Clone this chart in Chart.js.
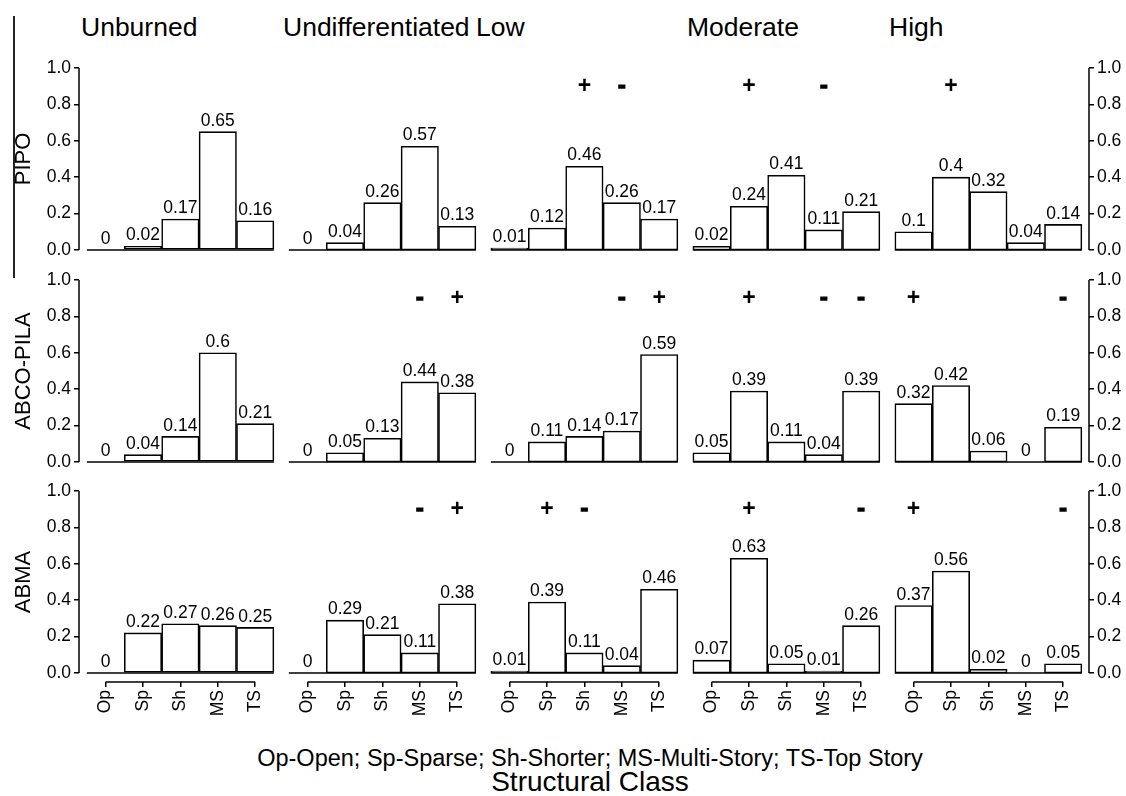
<!DOCTYPE html>
<html>
<head>
<meta charset="utf-8">
<script src="https://cdn.jsdelivr.net/npm/chart.js@4.4.1/dist/chart.umd.min.js"></script>
<style>
  html, body { margin: 0; padding: 0; background: #fff; }
  body { width: 1126px; height: 796px; position: relative; overflow: hidden;
         font-family: "Liberation Sans", Arial, sans-serif; color: #000; }
  canvas { position: absolute; }
  .title { position: absolute; font-size: 26.5px; line-height: 27px; white-space: nowrap; }
  .rowlabel { position: absolute; font-size: 22px; line-height: 22px; white-space: nowrap;
              transform: translate(-50%, -50%) rotate(-90deg); }
  .note { position: absolute; left: 0; width: 1180px; text-align: center; white-space: nowrap; }
  .edge { position: absolute; left: 13px; top: 16px; width: 2px; height: 262px; background: #222; }
</style>
</head>
<body>
<div class="edge"></div>
<div class="note" style="top:745px;font-size:23.5px;line-height:26px;">Op-Open; Sp-Sparse; Sh-Shorter; MS-Multi-Story; TS-Top Story</div>
<div class="note" style="top:767px;font-size:28px;line-height:30px;">Structural Class</div>
<script>
// categories and panels
const categories = ['Op', 'Sp', 'Sh', 'MS', 'TS'];
const severities = ['Unburned', 'Undifferentiated', 'Low', 'Moderate', 'High'];
const species = ['PIPO', 'ABCO-PILA', 'ABMA'];
const yTicks = [0, 0.2, 0.4, 0.6, 0.8, 1.0];

// proportion of plots per structural class, one row per severity
const pipoValues = [
    [0, 0.02, 0.17, 0.65, 0.16],
    [0, 0.04, 0.26, 0.57, 0.13],
    [0.01, 0.12, 0.46, 0.26, 0.17],
    [0.02, 0.24, 0.41, 0.11, 0.21],
    [0.1, 0.4, 0.32, 0.04, 0.14]
];
const abcoPilaValues = [
    [0, 0.04, 0.14, 0.6, 0.21],
    [0, 0.05, 0.13, 0.44, 0.38],
    [0, 0.11, 0.14, 0.17, 0.59],
    [0.05, 0.39, 0.11, 0.04, 0.39],
    [0.32, 0.42, 0.06, 0, 0.19]
];
const abmaValues = [
    [0, 0.22, 0.27, 0.26, 0.25],
    [0, 0.29, 0.21, 0.11, 0.38],
    [0.01, 0.39, 0.11, 0.04, 0.46],
    [0.07, 0.63, 0.05, 0.01, 0.26],
    [0.37, 0.56, 0.02, 0, 0.05]
];

// significant differences from unburned (+ more, - fewer)
const pipoSigns = [
    ['', '', '', '', ''],
    ['', '', '', '', ''],
    ['', '', '+', '-', ''],
    ['', '+', '', '-', ''],
    ['', '+', '', '', '']
];
const abcoPilaSigns = [
    ['', '', '', '', ''],
    ['', '', '', '-', '+'],
    ['', '', '', '-', '+'],
    ['', '+', '', '-', '-'],
    ['+', '', '', '', '-']
];
const abmaSigns = [
    ['', '', '', '', ''],
    ['', '', '', '-', '+'],
    ['', '+', '-', '', ''],
    ['', '+', '', '', '-'],
    ['+', '', '', '', '-']
];
const signLevel = 0.9;

const valuesBySpecies = [pipoValues, abcoPilaValues, abmaValues];
const signsBySpecies = [pipoSigns, abcoPilaSigns, abmaSigns];

// layout (px)
const plotLeft = 79, colStep = 202, plotWidth = 202;
const rowTops = [68, 280, 491];
const titleLefts = [81, 283, 476, 687, 889];
const plotHeight = 191;
const padTop = 14, padBottom = 16, leftAxisW = 50, rightAxisW = 37, xAxisH = 50;
const fontFamily = '"Liberation Sans", Arial, sans-serif';

Chart.defaults.font.family = fontFamily;
Chart.defaults.color = '#000';

// bar labels, signs, baseline and R style axis lines
const panelDecor = {
    id: 'panelDecor',
    afterDatasetsDraw(chart, args, opts) {
        const ctx = chart.ctx;
        const xs = chart.scales.x, ys = chart.scales.y;
        const area = chart.chartArea;
        const bars = chart.getDatasetMeta(0).data;
        const points = chart.data.datasets[0].data;
        const last = categories.length - 1;
        ctx.save();
        ctx.strokeStyle = '#000';
        ctx.lineWidth = 1.5;
        ctx.beginPath();
        let y0 = ys.getPixelForValue(0);
        ctx.moveTo(xs.getPixelForValue(-0.5), y0);
        ctx.lineTo(xs.getPixelForValue(last + 0.5), y0);
        if (opts.xAxis) {
            ctx.moveTo(xs.getPixelForValue(0), area.bottom);
            ctx.lineTo(xs.getPixelForValue(last), area.bottom);
        }
        if (opts.leftAxis) {
            ctx.moveTo(area.left, ys.getPixelForValue(0));
            ctx.lineTo(area.left, ys.getPixelForValue(1));
        }
        if (opts.rightAxis) {
            ctx.moveTo(area.right, ys.getPixelForValue(0));
            ctx.lineTo(area.right, ys.getPixelForValue(1));
        }
        ctx.stroke();

        ctx.fillStyle = '#000';
        ctx.textAlign = 'center';
        ctx.textBaseline = 'bottom';
        ctx.font = '17.5px ' + fontFamily;
        bars.forEach((bar, i) => ctx.fillText(String(points[i].y), bar.x, bar.y - 2));

        // + / - marks, the minus drawn heavier like the original
        ctx.font = 'bold 23px ' + fontFamily;
        ctx.textBaseline = 'middle';
        ctx.lineWidth = 1.4;
        opts.signs.forEach((s, i) => {
            if (!s) return;
            let sy = ys.getPixelForValue(signLevel);
            ctx.fillText(s, bars[i].x, sy);
            if (s === '-') ctx.strokeText(s, bars[i].x, sy);
        });
        ctx.restore();
    }
};

const onlyTicks = (list) => (scale) => { scale.ticks = list.map(v => ({value: v})); };
// fixed axis sizes, only for the axes that are drawn
const fixWidth = (px) => (scale) => { if (scale.options.display) scale.width = px; };
const fixHeight = (px) => (scale) => { if (scale.options.display) scale.height = px; };

for (let r = 0; r < species.length; r++) {
    for (let c = 0; c < severities.length; c++) {
        let leftW = c === 0 ? leftAxisW : 0;
        let rightW = c === severities.length - 1 ? rightAxisW : 0;
        let bottomRow = r === species.length - 1;
        let w = leftW + plotWidth + rightW;
        let h = padTop + plotHeight + (bottomRow ? xAxisH : padBottom);

        let canvas = document.createElement('canvas');
        canvas.width = w;
        canvas.height = h;
        canvas.style.width = w + 'px';
        canvas.style.height = h + 'px';
        canvas.style.left = (plotLeft + colStep * c - leftW) + 'px';
        canvas.style.top = (rowTops[r] - padTop) + 'px';
        document.body.appendChild(canvas);

        let values = valuesBySpecies[r][c];
        let axisTicks = {
            font: {size: 17.5},
            padding: 3,
            callback: (v) => v.toFixed(1)
        };
        let axisGrid = {drawOnChartArea: false, offset: false, tickLength: 5, color: '#000', lineWidth: 1.5};

        new Chart(canvas, {
            type: 'bar',
            data: {
                datasets: [{
                    data: values.map((v, i) => ({x: i, y: v})),
                    backgroundColor: '#fff',
                    borderColor: '#000',
                    borderWidth: 1.6,
                    borderSkipped: false,
                    barPercentage: 1,
                    categoryPercentage: 1
                }]
            },
            options: {
                responsive: false,
                animation: false,
                layout: {padding: {top: padTop, bottom: bottomRow ? 0 : padBottom, left: 0, right: 0}},
                plugins: {
                    legend: {display: false},
                    tooltip: {enabled: false},
                    panelDecor: {
                        signs: signsBySpecies[r][c],
                        xAxis: bottomRow,
                        leftAxis: c === 0,
                        rightAxis: c === severities.length - 1
                    }
                },
                scales: {
                    x: {
                        type: 'linear',
                        offset: false,
                        min: -0.71,
                        max: categories.length - 0.5 + 0.19,
                        display: bottomRow,
                        afterBuildTicks: onlyTicks(categories.map((k, i) => i)),
                        afterFit: fixHeight(xAxisH),
                        ticks: {
                            font: {size: 17.5},
                            padding: 3,
                            minRotation: 90,
                            maxRotation: 90,
                            autoSkip: false,
                            callback: (v) => categories[v]
                        },
                        grid: axisGrid,
                        border: {display: false}
                    },
                    y: {
                        min: -0.05,
                        max: 1,
                        position: 'left',
                        display: c === 0,
                        afterBuildTicks: onlyTicks(yTicks),
                        afterFit: fixWidth(leftAxisW),
                        ticks: axisTicks,
                        grid: axisGrid,
                        border: {display: false}
                    },
                    y2: {
                        min: -0.05,
                        max: 1,
                        position: 'right',
                        display: c === severities.length - 1,
                        afterBuildTicks: onlyTicks(yTicks),
                        afterFit: fixWidth(rightAxisW),
                        ticks: axisTicks,
                        grid: axisGrid,
                        border: {display: false}
                    }
                }
            },
            plugins: [panelDecor]
        });
    }
}

// column titles and species labels
severities.forEach((name, c) => {
    let d = document.createElement('div');
    d.className = 'title';
    d.textContent = name;
    d.style.left = titleLefts[c] + 'px';
    d.style.top = '14px';
    document.body.appendChild(d);
});
species.forEach((name, r) => {
    let d = document.createElement('div');
    d.className = 'rowlabel';
    d.textContent = name;
    d.style.left = '23px';
    d.style.top = (rowTops[r] + 91) + 'px';
    document.body.appendChild(d);
});
</script>
</body>
</html>
